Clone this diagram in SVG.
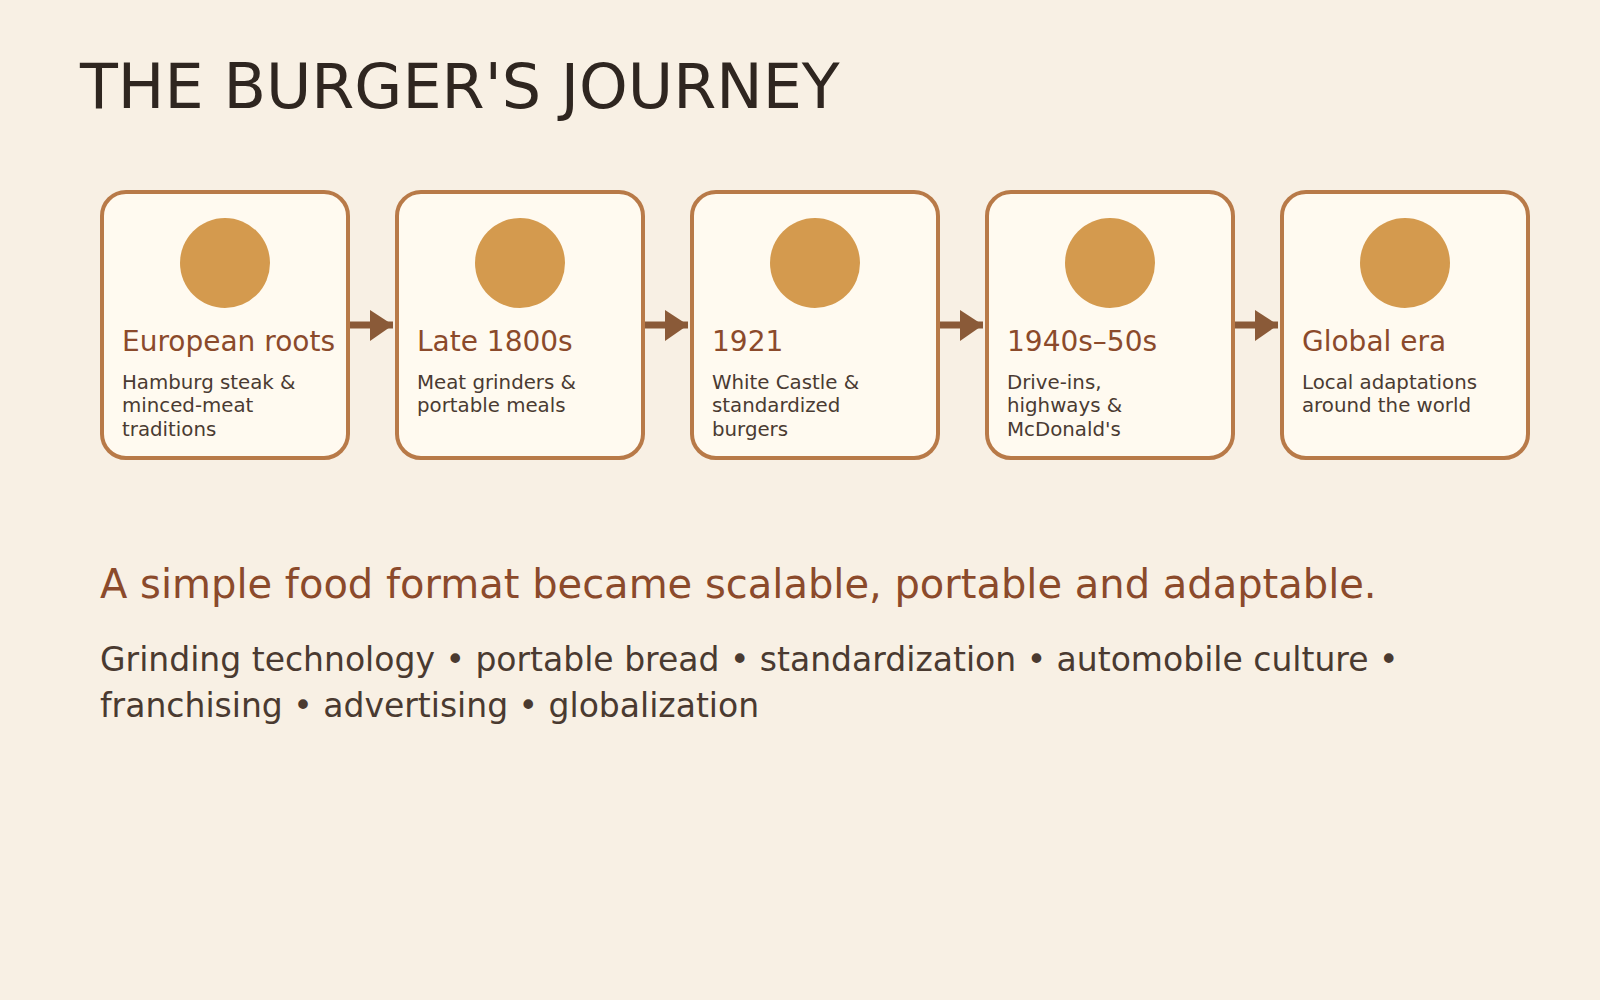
<svg xmlns="http://www.w3.org/2000/svg" width="1600" height="1000" viewBox="0 0 1600 1000">
<style>
text{font-family:"DejaVu Sans",Verdana,sans-serif}
.card{fill:#FFFAF0;stroke:#B87A48;stroke-width:4}
.dot{fill:#D49A4E}
.ct{font-size:28px;fill:#8B4A2B}
.cd{font-size:19.8px;fill:#4A3B32}
.conn{stroke:#8A5A38;stroke-width:7;fill:none}
.head{fill:#8A5A38}
</style>
<rect width="1600" height="1000" fill="#F8F0E4"/>
<text x="80" y="108" font-size="62" fill="#2F2620">THE BURGER'S JOURNEY</text>
<g id="connectors">
<line class="conn" x1="350" y1="325" x2="393" y2="325"/><polygon class="head" points="370,310 393,325 370,341"/>
<line class="conn" x1="645" y1="325" x2="688" y2="325"/><polygon class="head" points="665,310 688,325 665,341"/>
<line class="conn" x1="940" y1="325" x2="983" y2="325"/><polygon class="head" points="960,310 983,325 960,341"/>
<line class="conn" x1="1235" y1="325" x2="1278" y2="325"/><polygon class="head" points="1255,310 1278,325 1255,341"/>
</g>
<g id="node1">
<rect class="card" x="102" y="192" width="246" height="266" rx="24"/>
<circle class="dot" cx="225" cy="263" r="45"/>
<text class="ct" x="122" y="351">European roots</text>
<text class="cd" x="122" y="388.5">Hamburg steak &amp;</text>
<text class="cd" x="122" y="412">minced-meat</text>
<text class="cd" x="122" y="435.5">traditions</text>
</g>
<g id="node2">
<rect class="card" x="397" y="192" width="246" height="266" rx="24"/>
<circle class="dot" cx="520" cy="263" r="45"/>
<text class="ct" x="417" y="351">Late 1800s</text>
<text class="cd" x="417" y="388.5">Meat grinders &amp;</text>
<text class="cd" x="417" y="412">portable meals</text>
</g>
<g id="node3">
<rect class="card" x="692" y="192" width="246" height="266" rx="24"/>
<circle class="dot" cx="815" cy="263" r="45"/>
<text class="ct" x="712" y="351">1921</text>
<text class="cd" x="712" y="388.5">White Castle &amp;</text>
<text class="cd" x="712" y="412">standardized</text>
<text class="cd" x="712" y="435.5">burgers</text>
</g>
<g id="node4">
<rect class="card" x="987" y="192" width="246" height="266" rx="24"/>
<circle class="dot" cx="1110" cy="263" r="45"/>
<text class="ct" x="1007" y="351">1940s–50s</text>
<text class="cd" x="1007" y="388.5">Drive-ins,</text>
<text class="cd" x="1007" y="412">highways &amp;</text>
<text class="cd" x="1007" y="435.5">McDonald's</text>
</g>
<g id="node5">
<rect class="card" x="1282" y="192" width="246" height="266" rx="24"/>
<circle class="dot" cx="1405" cy="263" r="45"/>
<text class="ct" x="1302" y="351">Global era</text>
<text class="cd" x="1302" y="388.5">Local adaptations</text>
<text class="cd" x="1302" y="412">around the world</text>
</g>
<text x="100" y="598" font-size="40" fill="#8B4A2B">A simple food format became scalable, portable and adaptable.</text>
<text font-size="33" fill="#4A3A30"><tspan x="100" y="671">Grinding technology • portable bread • standardization • automobile culture •</tspan><tspan x="100" y="717">franchising • advertising • globalization</tspan></text>
</svg>
